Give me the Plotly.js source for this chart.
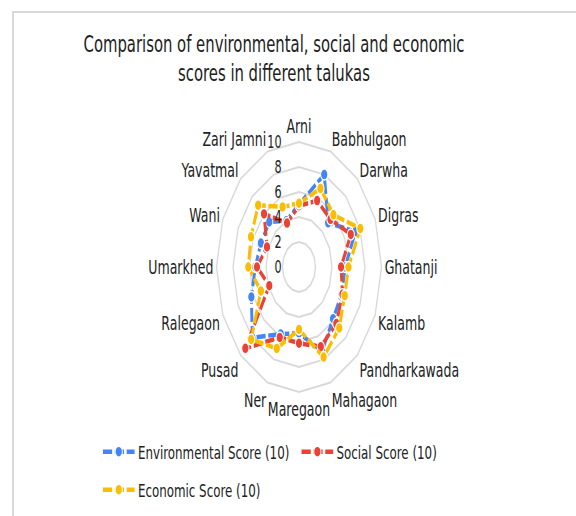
<!DOCTYPE html>
<html><head><meta charset="utf-8">
<script src="https://cdn.plot.ly/plotly-3.0.1.min.js"></script>
<style>
html,body{margin:0;padding:0;width:576px;height:516px;overflow:hidden;background:#fff;}
#wrap{position:absolute;left:0;top:0;width:873px;height:516px;transform:scale(0.65979,1);transform-origin:0 0;}
#frame{position:absolute;left:12px;top:11px;width:700px;height:700px;border:2px solid #d9d9d9;box-sizing:border-box;pointer-events:none;}
</style></head>
<body>
<div id="wrap"><div id="chart" style="width:873px;height:516px"></div></div>
<div id="frame"></div>
<script>
const categories = ['Arni','Babhulgaon','Darwha','Digras','Ghatanji','Kalamb','Pandharkawada','Mahagaon','Maregaon','Ner','Pusad','Ralegaon','Umarkhed','Wani','Yavatmal','Zari Jamni'];
const environmental = [5.0, 8.0, 5.0, 7.4, 5.6, 5.6, 5.85, 7.3, 5.3, 5.8, 8.0, 6.25, 5.3, 5.0, 5.1, 4.0];
const social        = [4.9, 5.75, 5.4, 6.8, 5.1, 5.7, 6.4, 6.9, 6.1, 6.1, 9.2, 3.9, 5.1, 4.2, 6.0, 3.8];
const economic      = [5.1, 6.8, 5.9, 8.05, 6.0, 6.0, 6.9, 7.8, 5.0, 7.05, 8.2, 5.0, 6.15, 6.3, 7.0, 5.2];
const seriesNames = ['Environmental Score (10)','Social Score (10)','Economic Score (10)'];
const seriesColors = ['#4285F4','#EA4335','#FBBC04'];
const radialTicks = [0,2,4,6,8,10];

const closeLoop = a => a.concat([a[0]]);
const FONT = 'DejaVu Sans';
const W = 873, H = 516, SX = 576/873;

function mk(vals, i, legendId){
  return {
    type:'scatterpolar', mode:'lines+markers',
    r: closeLoop(vals), theta: closeLoop(categories),
    name: seriesNames[i], legend: legendId,
    line:{color:seriesColors[i], width:4.5, dash:'14px,4px'},
    marker:{color:seriesColors[i], size:11, line:{color:'#ffffff', width:1.5}},
    cliponaxis:false
  };
}
const data = [mk(environmental,0,'legend'), mk(social,1,'legend'), mk(economic,2,'legend2')];

const cx = 299/SX, cyTop = 267, R = 125;
const layout = {
  width:W, height:H,
  margin:{l:0,r:0,t:0,b:0},
  paper_bgcolor:'#ffffff',
  font:{family:FONT, color:'#222222'},
  title:{text:'Comparison of environmental, social and economic<br>scores in different talukas',
    font:{family:FONT, size:22.5, color:'#222222'},
    x:(274/SX)/W, xanchor:'center', xref:'paper',
    y:1-52/H, yanchor:'top', yref:'container'},
  polar:{
    domain:{x:[(cx-R)/W,(cx+R)/W], y:[(H-cyTop-R)/H,(H-cyTop+R)/H]},
    bgcolor:'#ffffff',
    gridshape:'linear',
    angularaxis:{type:'category', categoryarray:categories, direction:'clockwise', rotation:90,
      showgrid:false, showline:true, linecolor:'#d9d9d9', linewidth:2, ticks:'',
      tickfont:{family:FONT, size:19, color:'#222222'}},
    radialaxis:{range:[0,10], tickvals:radialTicks, angle:90, side:'counterclockwise', tickangle:90,
      showline:false, ticks:'outside', ticklen:20, tickcolor:'rgba(0,0,0,0)', gridcolor:'#d9d9d9', gridwidth:2,
      tickfont:{family:FONT, size:17, color:'#222222'}}
  },
  legend:{orientation:'h', x:151/W, xanchor:'left', y:1-452/H, yanchor:'middle',
    entrywidth:238, entrywidthmode:'pixels', itemwidth:48,
    font:{family:FONT, size:18, color:'#222222'}, bgcolor:'rgba(0,0,0,0)'},
  legend2:{orientation:'h', x:151/W, xanchor:'left', y:1-490/H, yanchor:'middle', itemwidth:48,
    font:{family:FONT, size:18, color:'#222222'}, bgcolor:'rgba(0,0,0,0)'},
  showlegend:true
};
Plotly.newPlot('chart', data, layout, {displayModeBar:false, staticPlot:true});
</script>
</body></html>
